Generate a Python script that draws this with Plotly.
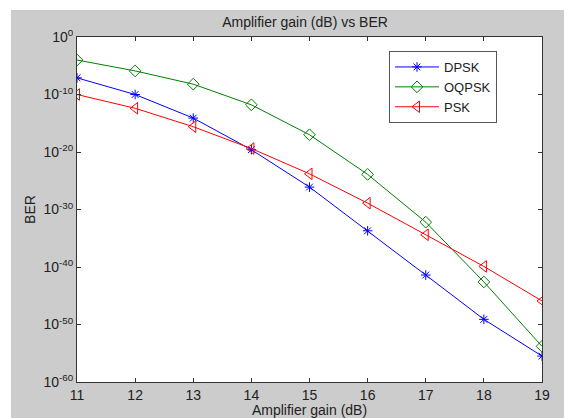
import plotly.graph_objects as go

gain_db = [11, 12, 13, 14, 15, 16, 17, 18, 19]
ber_dpsk = [7.9e-08, 1.0e-10, 7.9e-15, 2.5e-20, 7.9e-27, 2.0e-34, 4.0e-42, 7.9e-50, 3.2e-56]
ber_oqpsk = [1.0e-04, 1.26e-06, 6.3e-09, 1.6e-12, 1.0e-17, 1.26e-24, 6.3e-33, 2.5e-43, 1.6e-54]
ber_psk = [1.0e-10, 4.0e-13, 2.5e-16, 4.0e-20, 1.6e-24, 1.26e-29, 4.0e-35, 1.26e-40, 1.26e-46]

y_tick_exps = [0, -10, -20, -30, -40, -50, -60]
y_tick_vals = [10.0 ** e for e in y_tick_exps]
y_tick_text = ["10<sup>%d</sup>" % e for e in y_tick_exps]

FONT = "Liberation Sans, Arial, sans-serif"

fig = go.Figure()
fig.add_trace(go.Scatter(x=gain_db, y=ber_dpsk, name="DPSK", mode="lines+markers",
                         line=dict(color="#0000ff", width=1),
                         marker=dict(symbol="asterisk-open", size=8, color="#0000ff",
                                     line=dict(color="#0000ff", width=1))))
fig.add_trace(go.Scatter(x=gain_db, y=ber_oqpsk, name="OQPSK", mode="lines+markers",
                         line=dict(color="#008000", width=1),
                         marker=dict(symbol="diamond-open", size=9, color="#008000",
                                     line=dict(color="#008000", width=1))))
fig.add_trace(go.Scatter(x=gain_db, y=ber_psk, name="PSK", mode="lines+markers",
                         line=dict(color="#ff0000", width=1),
                         marker=dict(symbol="triangle-left-open", size=10, color="#ff0000",
                                     line=dict(color="#ff0000", width=1))))

# page body has an 8px margin, so the figure starts at (8, 8) of the window
OFF = 8
W, H = 572 - OFF, 418 - OFF
L, R, T, B = 77 - OFF, 572 - 542, 37 - OFF, 418 - 382
pw, ph = W - L - R, H - T - B

def px_x(p):
    return (p - OFF - L) / pw

def px_y(p):
    return (H - B - (p - OFF)) / ph

# thin white strips at the top and left of the grey figure background
fig.add_shape(type="rect", xref="paper", yref="paper",
              x0=px_x(OFF), x1=px_x(572), y0=px_y(10), y1=px_y(OFF),
              fillcolor="white", line=dict(width=0), layer="above")
fig.add_shape(type="rect", xref="paper", yref="paper",
              x0=px_x(OFF), x1=px_x(11), y0=px_y(418), y1=px_y(OFF),
              fillcolor="white", line=dict(width=0), layer="above")

axis_common = dict(showline=True, linecolor="#333333", linewidth=1, mirror="ticks",
                   ticks="inside", ticklen=4, tickcolor="#333333", showgrid=False,
                   zeroline=False, automargin=False,
                   tickfont=dict(family=FONT, size=14, color="#222222"))

fig.update_xaxes(range=[11, 19], tickmode="array", tickvals=gain_db,
                 title=dict(text="Amplifier gain (dB)", standoff=0,
                            font=dict(family=FONT, size=14, color="#222222")),
                 **axis_common)
fig.update_yaxes(type="log", range=[-60, 0], tickmode="array", tickvals=y_tick_vals,
                 ticktext=y_tick_text,
                 title=dict(text="BER", standoff=4,
                            font=dict(family=FONT, size=14, color="#222222")),
                 **axis_common)

fig.update_layout(
    width=W, height=H,
    margin=dict(l=L, r=R, t=T, b=B, pad=0, autoexpand=False),
    paper_bgcolor="#cccccc", plot_bgcolor="white",
    title=dict(text="Amplifier gain (dB) vs BER", xref="paper", x=px_x(305), xanchor="center",
               yref="container", y=1 - (22 - OFF) / H, yanchor="middle",
               font=dict(family=FONT, size=14, color="#222222")),
    legend=dict(x=px_x(389), y=px_y(51), xanchor="left", yanchor="top",
                bgcolor="white", bordercolor="#555555", borderwidth=1,
                font=dict(family=FONT, size=13, color="#222222"),
                tracegroupgap=0, itemwidth=44),
    showlegend=True,
)

fig.write_html("out.html")
